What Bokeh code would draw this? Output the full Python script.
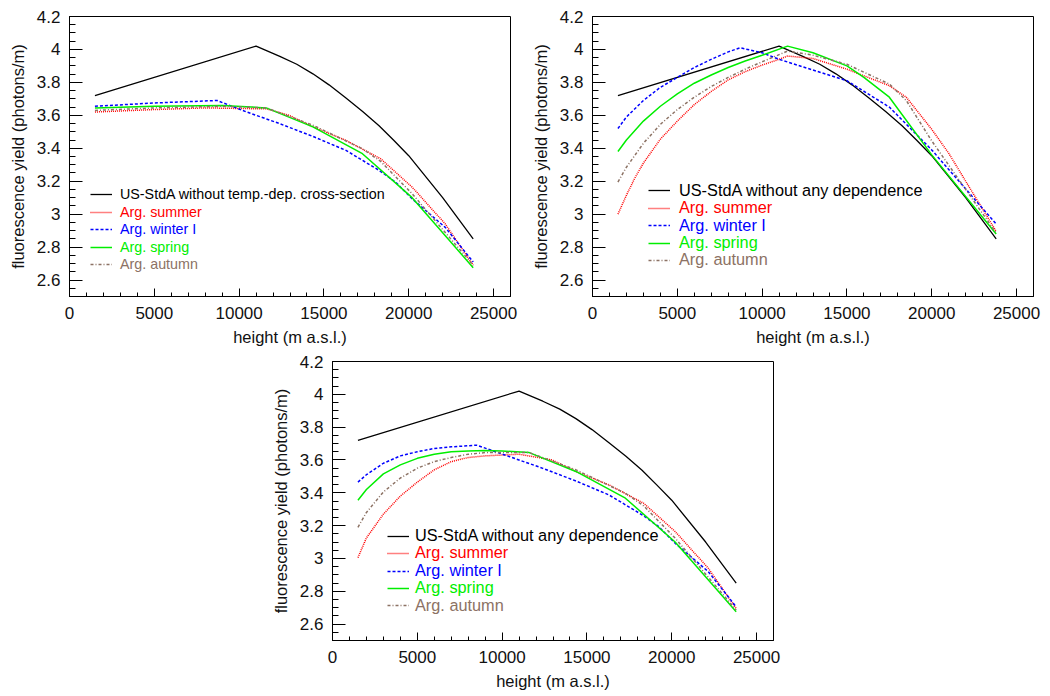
from bokeh.plotting import figure
from bokeh.models import (Range1d, FixedTicker, CustomJSTickFormatter, Legend, LegendItem, Spacer)
from bokeh.layouts import column, row
from bokeh.embed import file_html
from bokeh.resources import INLINE

# ---------------- data ----------------
x_major_ticks = [0, 5000, 10000, 15000, 20000, 25000]
x_minor_ticks = list(range(0, 26001, 1000))
y_major_ticks = [2.6, 2.8, 3.0, 3.2, 3.4, 3.6, 3.8, 4.0, 4.2]
y_minor_ticks = [round(2.5 + 0.05 * i, 2) for i in range(35)]

x_title = "height (m a.s.l.)"
y_title = "fluorescence yield (photons/m)"

# US standard atmosphere (same curve in all panels)
std_x = [1500, 11000, 12400, 13400, 14350, 15300, 16300, 17300, 18250, 19100, 20000, 22000, 23800]
std_y = [3.72, 4.02, 3.958, 3.91, 3.852, 3.785, 3.705, 3.622, 3.537, 3.45, 3.355, 3.10, 2.85]

# Panel 1: without temp.-dep. cross-section
p1_summer_x = [1500, 5000, 8000, 11000, 11600, 12950, 14350, 16300, 18350, 20200, 22150, 23800]
p1_summer_y = [3.62, 3.635, 3.645, 3.64, 3.64, 3.60, 3.53, 3.448, 3.336, 3.164, 2.941, 2.69]
p1_winter_x = [1500, 5000, 8700, 10450, 12400, 14350, 16300, 18250, 19220, 20200, 22150, 23800]
p1_winter_y = [3.655, 3.675, 3.69, 3.62, 3.549, 3.472, 3.387, 3.266, 3.195, 3.093, 2.92, 2.71]
p1_spring_x = [1500, 5000, 9000, 11600, 14350, 17270, 20200, 23800]
p1_spring_y = [3.645, 3.655, 3.66, 3.645, 3.53, 3.367, 3.10, 2.675]
p1_autumn_x = [1500, 5000, 9000, 11600, 14350, 17270, 18350, 20200, 23800]
p1_autumn_y = [3.63, 3.645, 3.655, 3.645, 3.54, 3.397, 3.32, 3.124, 2.69]

# Panel 2: US-StdA without any dependence
p2_summer_x = [1500, 2000, 2500, 3000, 4000, 5000, 6000, 7000, 8000, 9000, 10000, 11000, 11500, 13000, 15000, 17500, 18500, 20000, 21000, 23800]
p2_summer_y = [3.00, 3.115, 3.22, 3.31, 3.455, 3.565, 3.665, 3.745, 3.815, 3.865, 3.905, 3.94, 3.96, 3.945, 3.88, 3.78, 3.71, 3.515, 3.37, 2.895]
p2_winter_x = [1500, 2000, 3000, 4000, 5000, 6000, 7000, 8000, 8700, 10000, 11000, 13000, 15000, 17500, 20000, 23800]
p2_winter_y = [3.52, 3.59, 3.69, 3.77, 3.83, 3.89, 3.94, 3.985, 4.01, 3.98, 3.94, 3.875, 3.81, 3.65, 3.39, 2.94]
p2_spring_x = [1500, 2000, 3000, 4000, 5000, 6000, 7000, 8000, 9000, 10000, 11500, 13000, 15000, 16000, 17500, 20000, 23800]
p2_spring_y = [3.38, 3.45, 3.565, 3.655, 3.73, 3.795, 3.845, 3.89, 3.93, 3.965, 4.02, 3.98, 3.90, 3.83, 3.71, 3.36, 2.88]
p2_autumn_x = [1500, 2000, 3000, 4000, 5000, 6000, 7000, 8000, 9000, 10000, 11500, 13000, 15000, 17500, 18500, 20000, 23800]
p2_autumn_y = [3.195, 3.285, 3.43, 3.545, 3.635, 3.71, 3.775, 3.83, 3.88, 3.925, 3.99, 3.965, 3.91, 3.79, 3.69, 3.445, 2.885]

# Panel 3
p3_summer_x = [1500, 2000, 3000, 4000, 5000, 6000, 7000, 8000, 9000, 10000, 11000, 12950, 14350, 16300, 18350, 20200, 22150, 23800]
p3_summer_y = [3.005, 3.125, 3.27, 3.38, 3.465, 3.54, 3.59, 3.615, 3.625, 3.63, 3.635, 3.60, 3.53, 3.448, 3.336, 3.164, 2.941, 2.695]
p3_winter_x = [1500, 2000, 3000, 4000, 5000, 6000, 7000, 8500, 10450, 12400, 14350, 16300, 18250, 19220, 20200, 22150, 23800]
p3_winter_y = [3.465, 3.51, 3.58, 3.625, 3.65, 3.67, 3.68, 3.69, 3.62, 3.549, 3.472, 3.387, 3.266, 3.195, 3.093, 2.92, 2.705]
p3_spring_x = [1500, 2000, 3000, 4000, 5000, 6000, 7000, 8000, 9000, 10000, 11600, 14350, 17270, 20200, 23800]
p3_spring_y = [3.355, 3.42, 3.515, 3.57, 3.61, 3.635, 3.65, 3.655, 3.657, 3.655, 3.645, 3.53, 3.367, 3.10, 2.675]
p3_autumn_x = [1500, 2000, 3000, 4000, 5000, 6000, 7000, 8000, 9000, 10000, 11600, 14350, 17270, 18350, 20200, 23800]
p3_autumn_y = [3.19, 3.28, 3.405, 3.49, 3.55, 3.59, 3.615, 3.635, 3.645, 3.645, 3.645, 3.54, 3.397, 3.32, 3.124, 2.685]

labels_p1 = ["US-StdA without temp.-dep. cross-section", "Arg. summer", "Arg. winter I", "Arg. spring", "Arg. autumn"]
labels_p23 = ["US-StdA without any dependence", "Arg. summer", "Arg. winter I", "Arg. spring", "Arg. autumn"]

# ---------------- styles ----------------
FONT = "Liberation Sans"
COLORS = ["#000000", "#FF0000", "#0000FF", "#00EE00", "#8C7264"]
DASHES = ["solid", "1 1", "3 2", "solid", "3 2 1 2"]
WIDTHS = [1.3, 1.5, 1.5, 1.5, 1.5]


def make_panel(series, labels, frame_h, borders, leg_x, leg_ys, leg_font, standoff):
    left, right, top, bottom = borders
    p = figure(frame_width=441, frame_height=frame_h,
               min_border_left=left, min_border_right=right,
               min_border_top=top, min_border_bottom=bottom,
               x_range=Range1d(0, 26000), y_range=Range1d(2.5, 4.2),
               output_backend="svg", toolbar_location=None,
               background_fill_color="white", border_fill_color="white")
    p.xgrid.visible = False
    p.ygrid.visible = False
    p.outline_line_color = "black"
    p.outline_line_width = 1

    p.xaxis.ticker = FixedTicker(ticks=x_major_ticks, minor_ticks=x_minor_ticks)
    p.yaxis.ticker = FixedTicker(ticks=y_major_ticks, minor_ticks=y_minor_ticks)
    p.yaxis.formatter = CustomJSTickFormatter(code="return Number(tick.toFixed(2)).toString();")
    for ax in (p.xaxis, p.yaxis):
        ax.axis_line_color = "black"
        ax.major_tick_line_color = "black"
        ax.minor_tick_line_color = "black"
        ax.major_tick_out = 0
        ax.minor_tick_out = 0
        ax.major_label_text_font = FONT
        ax.major_label_text_font_size = "17px"
        ax.major_label_text_color = "#111111"
        ax.axis_label_text_font = FONT
        ax.axis_label_text_font_size = "16.5px"
        ax.axis_label_text_font_style = "normal"
        ax.axis_label_text_color = "#111111"
    p.yaxis.major_tick_in = 13
    p.yaxis.minor_tick_in = 6
    p.xaxis.major_tick_in = 8
    p.xaxis.minor_tick_in = 4
    p.yaxis.major_label_standoff = 9
    p.xaxis.major_label_standoff = 10
    p.yaxis.axis_label_standoff = 7
    p.xaxis.axis_label_standoff = 6
    p.xaxis.axis_label = x_title
    p.yaxis.axis_label = y_title

    rends = []
    for (xs, ys), c, d, w in zip(series, COLORS, DASHES, WIDTHS):
        r = p.line(xs, ys, line_color=c, line_dash=d, line_width=w)
        rends.append(r)

    for r, lab, c, ly in zip(rends, labels, COLORS, leg_ys):
        leg = Legend(items=[LegendItem(label=lab, renderers=[r])],
                     location=(leg_x, ly),
                     label_text_color=c, label_text_font=FONT,
                     label_text_font_size=leg_font,
                     glyph_width=22, glyph_height=18, label_height=18,
                     label_standoff=standoff, padding=0, margin=0, spacing=0,
                     border_line_alpha=0, background_fill_alpha=0)
        p.add_layout(leg)
    return p


s1 = [(std_x, std_y), (p1_summer_x, p1_summer_y), (p1_winter_x, p1_winter_y),
      (p1_spring_x, p1_spring_y), (p1_autumn_x, p1_autumn_y)]
s2 = [(std_x, std_y), (p2_summer_x, p2_summer_y), (p2_winter_x, p2_winter_y),
      (p2_spring_x, p2_spring_y), (p2_autumn_x, p2_autumn_y)]
s3 = [(std_x, std_y), (p3_summer_x, p3_summer_y), (p3_winter_x, p3_winter_y),
      (p3_spring_x, p3_spring_y), (p3_autumn_x, p3_autumn_y)]

p1 = make_panel(s1, labels_p1, 280, (69, 13, 16, 57), 21,
                [92.7, 75, 57.7, 40.3, 23], "14.3px", 8)
p2 = make_panel(s2, labels_p23, 280, (69, 17, 16, 57), 56,
                [96.3, 78.7, 61.3, 44, 26.7], "16.3px", 9)
p3 = make_panel(s3, labels_p23, 279, (69, 13, 8, 56), 55,
                [95, 77.7, 60, 42.7, 25.3], "16.3px", 6)

layout = column(row(p1, p2), row(Spacer(width=263, height=10), p3), spacing=0)

open("out.html", "w").write(file_html(layout, INLINE))
